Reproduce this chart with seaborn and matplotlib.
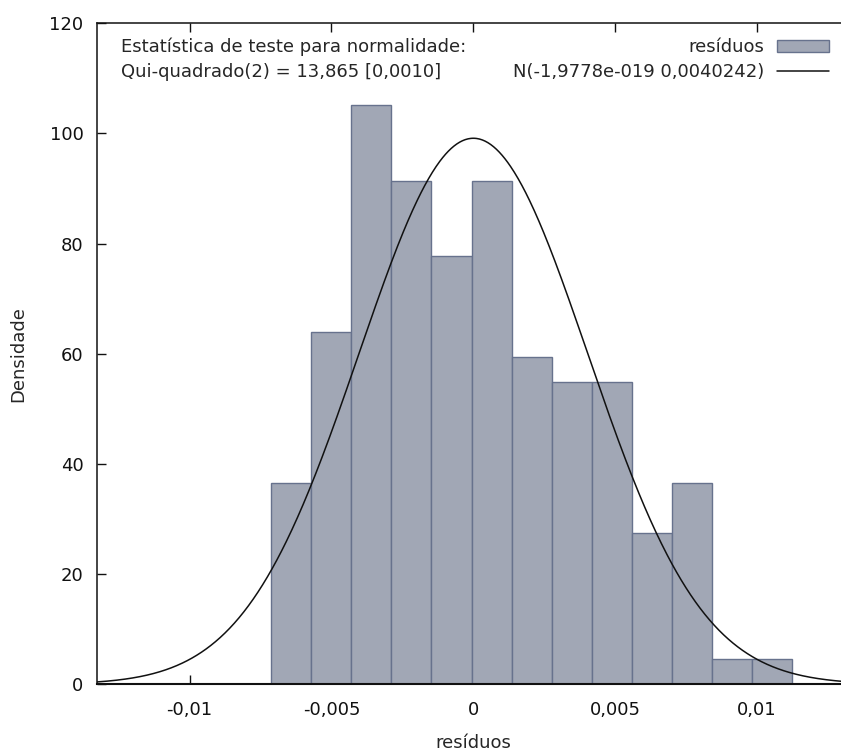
import numpy as np
import pandas as pd
import matplotlib
matplotlib.use("Agg")
import matplotlib.pyplot as plt
from matplotlib.patches import Patch
from matplotlib.lines import Line2D
import seaborn as sns

# ---- data ----
bin_start = -0.00713          # left edge of the first histogram bin
bin_width = 0.001413          # width of each bin
densidade = [36.6, 64.0, 105.1, 91.4, 77.7, 91.4, 59.4, 54.8, 54.8, 27.4, 36.6, 4.6, 4.6]
normal_mean = -1.9778e-19
normal_sd = 0.0040242
x_ticks = [-0.01, -0.005, 0.0, 0.005, 0.01]
x_tick_labels = ["-0,01", "-0,005", "0", "0,005", "0,01"]
y_ticks = [0, 20, 40, 60, 80, 100, 120]
y_tick_labels = ["0", "20", "40", "60", "80", "100", "120"]
stat_lines = ["Estatística de teste para normalidade:",
              "Qui-quadrado(2) = 13,865 [0,0010]"]
legend_labels = ["resíduos", "N(-1,9778e-019 0,0040242)"]
x_label = "resíduos"
y_label = "Densidade"

edges = [float(bin_start + bin_width * i) for i in range(len(densidade) + 1)]
centers = [e + bin_width / 2 for e in edges[:-1]]
df = pd.DataFrame({"residuo": centers, "densidade": densidade})

sns.set_style("ticks")
plt.rcParams["font.family"] = ["DejaVu Sans"]
plt.rcParams["axes.linewidth"] = 1.1

FILL = "#A1A7B5"
EDGE = "#67728D"
FS = 13

fig = plt.figure(figsize=(8.41, 7.55), dpi=100)
ax = fig.add_axes([0.115, 0.0936, 0.8957, 0.8755])

sns.histplot(data=df, x="residuo", weights="densidade", bins=edges, stat="count",
             color=FILL, edgecolor=EDGE, linewidth=1.0, alpha=1.0, ax=ax)

xlim = (-0.01327, 0.01327)
xs = np.linspace(xlim[0], xlim[1], 800)
pdf = np.exp(-0.5 * ((xs - normal_mean) / normal_sd) ** 2) / (normal_sd * np.sqrt(2 * np.pi))
sns.lineplot(x=xs, y=pdf, color="#111111", linewidth=1.1, ax=ax, sort=False,
             estimator=None)

ax.set_xlim(*xlim)
ax.set_ylim(0, 120)
ax.set_xticks(x_ticks)
ax.set_xticklabels(x_tick_labels)
ax.set_yticks(y_ticks)
ax.set_yticklabels(y_tick_labels)
ax.tick_params(axis="x", direction="in", length=6.3, width=1.0, top=True, bottom=True,
               pad=12, labelsize=FS, colors="#111111")
ax.tick_params(axis="y", direction="in", length=6.3, width=1.0, left=True, right=True,
               pad=9.6, labelsize=FS, colors="#111111")
for s in ["left", "bottom", "top", "right"]:
    ax.spines[s].set_visible(True)
    ax.spines[s].set_color("#111111")
ax.spines["bottom"].set_linewidth(1.5)

ax.set_xlabel(x_label, fontsize=FS)
ax.xaxis.set_label_coords(0.5, -0.0895)
ax.xaxis.label.set_va("center")
ax.set_ylabel(y_label, fontsize=FS)
ax.yaxis.set_label_coords(-0.104, 0.5)
ax.yaxis.label.set_va("center")

# statistic text (top-left)
fig.text(120.7 / 841, 1 - 46.7 / 755, stat_lines[0], fontsize=FS, va="center", ha="left")
fig.text(120.7 / 841, 1 - 71.7 / 755, stat_lines[1], fontsize=FS, va="center", ha="left")

handles = [Patch(facecolor=FILL, edgecolor=EDGE, linewidth=1.0),
           Line2D([0], [0], color="#111111", linewidth=1.1)]
fig.legend(handles, legend_labels, loc="upper right",
           bbox_to_anchor=(829 / 841, 1 - 38.5 / 755), frameon=False,
           markerfirst=False, fontsize=FS, handlelength=2.88, handleheight=0.6,
           handletextpad=0.72, labelspacing=0.38, borderpad=0, borderaxespad=0)

fig.savefig("out.png", dpi=100)
